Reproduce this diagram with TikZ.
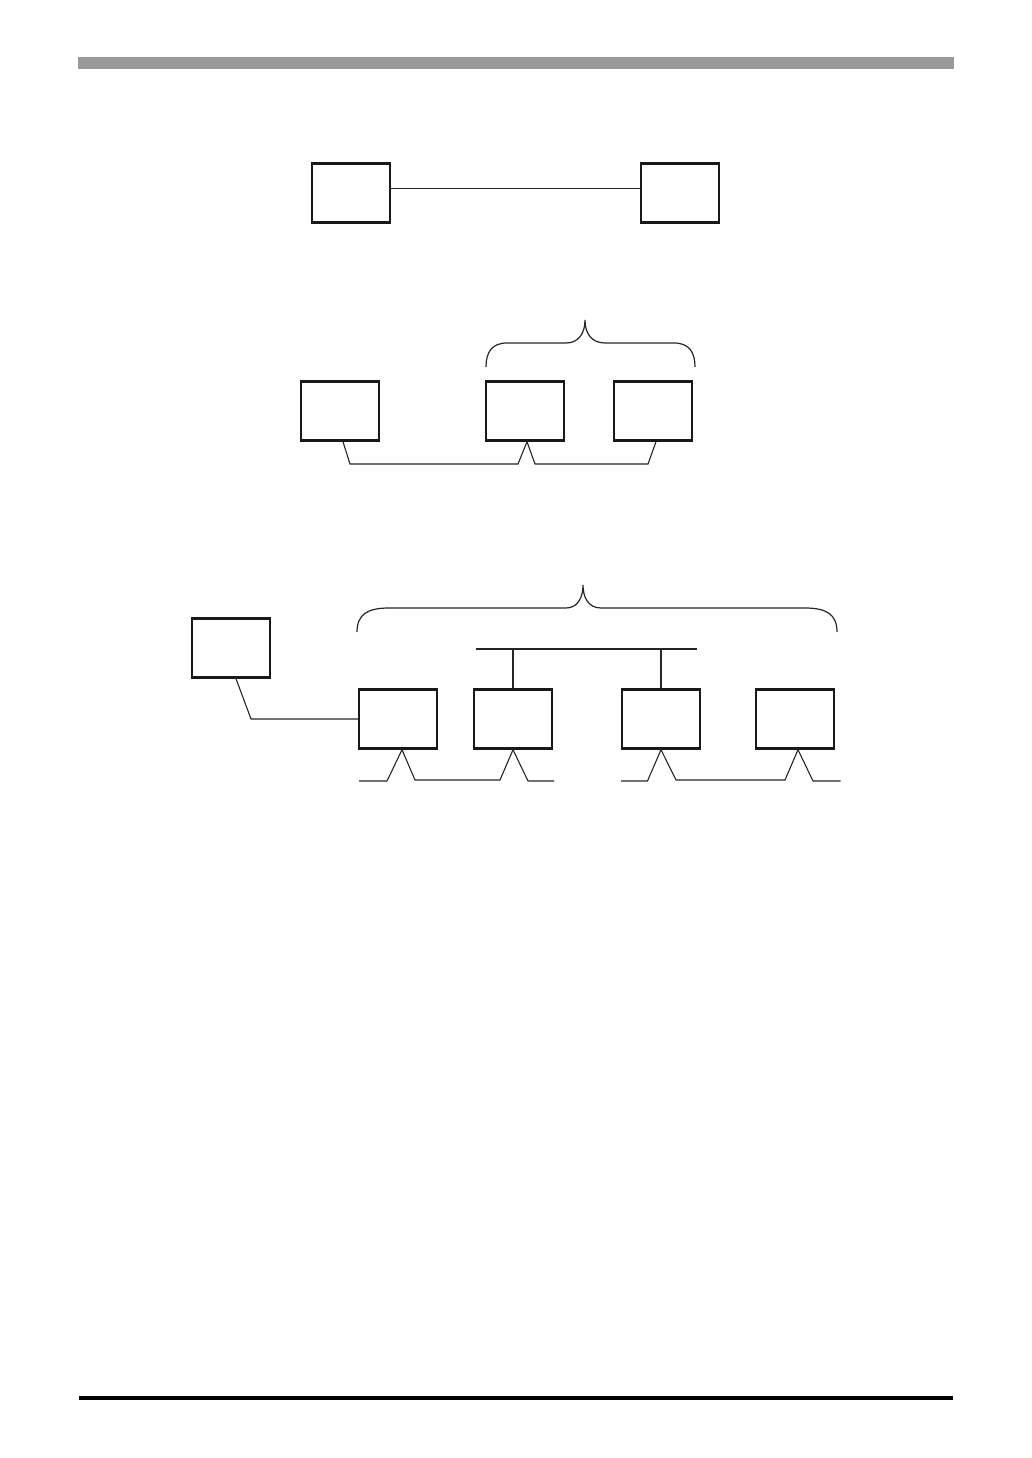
\documentclass[tikz,border=0pt]{standalone}
\usetikzlibrary{calc}
\begin{document}
\begin{tikzpicture}[x=1pt,y=-1pt,
  unit/.style={draw=black!90,line width=2.4pt,minimum width=78pt,minimum height=59pt,inner sep=0pt},
  wire/.style={draw=black!85,line width=1.1pt,line join=miter},
  bracepath/.style={draw=black!85,line width=1.2pt}]
\useasboundingbox (0,0) rectangle (1032,1458);
% header and footer rules
\fill[black!40] (78,57) rectangle (954,69);
\fill[black] (79,1396) rectangle (953,1400);

% --- top diagram ---
\node[unit] (t1) at (351,193) {};
\node[unit] (t2) at (680,193) {};
\draw[wire] ([yshift=4.5pt]t1.east) -- ([yshift=4.5pt]t2.west);

% --- middle diagram ---
\node[unit] (a) at (340,411) {};
\node[unit] (b) at (525,411) {};
\node[unit] (c) at (653,411) {};
\draw[bracepath] (486,367) .. controls (486,352) and (492,343) .. (507,343) -- (566,343)
  .. controls (578,343) and (585,334) .. (585,320)
  .. controls (585,334) and (592,343) .. (605,343) -- (674,343)
  .. controls (689,343) and (695,352) .. (695,367);
\draw[wire] ($(a.south)+(3,0)$) -- (350,464) -- (518,464) -- ($(b.south)+(2,0)$)
  -- (535,464) -- (648,464) -- ($(c.south)+(3,0)$);

% --- bottom diagram ---
\node[unit] (l) at (231,648) {};
\node[unit] (p1) at (398,719) {};
\node[unit] (p2) at (513,719) {};
\node[unit] (p3) at (661,719) {};
\node[unit] (p4) at (795,719) {};
\draw[bracepath] (357,632) .. controls (357,614) and (368,608) .. (389,608) -- (566,608)
  .. controls (578,608) and (583,597) .. (583,585)
  .. controls (583,597) and (588,608) .. (601,608) -- (805,608)
  .. controls (826,608) and (837,614) .. (837,632);
\coordinate (busl) at (476,649);
\coordinate (busr) at (697,649);
\draw[wire] (busl) -- (busr);
\draw[wire] (p2.north) -- (p2.north |- busl);
\draw[wire] (p3.north) -- (p3.north |- busl);
\draw[wire] ($(l.south)+(5,0)$) -- (251,719) -- (p1.west);
\coordinate (s1) at (359,781);
\coordinate (e1) at (554,781);
\coordinate (s2) at (621,781);
\coordinate (e2) at (840.5,781);
\draw[wire] (s1) -- (387,781) -- ($(p1.south)+(4,0)$) -- (415,780) -- (500,780)
  -- (p2.south) -- (528,781) -- (e1);
\draw[wire] (s2) -- (647.5,781) -- (p3.south) -- (676,780) -- (785,780)
  -- ($(p4.south)+(3,0)$) -- (813,781) -- (e2);
\end{tikzpicture}
\end{document}
